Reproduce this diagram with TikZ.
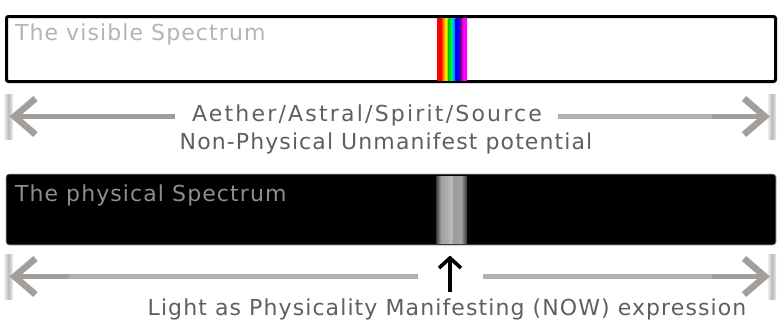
\documentclass[tikz,border=0pt]{standalone}
\usepackage{fontspec}
\newfontfamily\lbl[LetterSpace=5]{DejaVu Sans}
\newfontfamily\lblwide[LetterSpace=10]{DejaVu Sans}
\definecolor{arrowgray}{HTML}{B3B0AE}
\definecolor{arrowdark}{HTML}{A19E9C}
\definecolor{midtext}{HTML}{5F5F5F}
\definecolor{vistext}{HTML}{B4B4B4}
\definecolor{phystext}{HTML}{8E8E8E}
\begin{document}
\begin{tikzpicture}[x=1pt,y=-1pt,
  txt/.style={font=\lbl\fontsize{22}{26}\selectfont, inner sep=0pt, outer sep=0pt},
  widetxt/.style={font=\lblwide\fontsize{22}{26}\selectfont, inner sep=0pt, outer sep=0pt},
  visbox/.style={draw=black, line width=3pt, fill=white, rounded corners=2pt,
    minimum width=769pt, minimum height=65pt, inner sep=0pt, outer sep=0pt},
  physbox/.style={draw=gray!60, line width=0.6pt, fill=black, rounded corners=3pt,
    minimum width=770pt, minimum height=71pt, inner sep=0pt, outer sep=0pt},
  bar/.style={minimum width=8pt, minimum height=45pt, inner sep=0pt, outer sep=0pt,
    left color=gray!15, right color=gray!15, middle color=gray!55},
  shaft/.style={draw=arrowgray, line width=5pt},
  shaftend/.style={draw=arrowdark, line width=5pt},
  chev/.style={draw=arrowdark, line width=6.5pt, line join=miter, line cap=butt},
  uparr/.style={draw=black, line width=3.6pt, line join=miter, line cap=butt}]
\useasboundingbox (0,0) rectangle (779,327);

% visible spectrum box
\node[visbox] (vis) at (391,49) {};
\foreach \a/\b/\ca/\cb in {437/441/red/red, 441/443/red/orange, 443/446/orange/yellow!90!orange,
  446/448.5/yellow!90!orange/green!80!black, 448.5/452/green!80!black/green!60!cyan,
  452/455.5/cyan!80!black/cyan!40!blue, 455.5/460/blue/blue!80!violet,
  460/463/violet!90!blue/magenta!80!violet, 463/467/magenta/magenta}
  \shade[left color=\ca, right color=\cb] (\a,18) rectangle (\b,80);
\node[txt, text=vistext, anchor=base west] (vist) at (15,40) {The visible Spectrum};

% first arrow row
\node[bar] (lb1) at (8.5,116.5) {};
\node[bar] (rb1) at (772,116.5) {};
\node[widetxt, text=midtext, anchor=base] (aeth) at (367,121) {Aether/Astral/Spirit/Source};
\node[txt, text=midtext, anchor=base] (nonp) at (386,149) {Non-Physical Unmanifest potential};
\draw[shaftend, shorten >=17pt] ([xshift=3pt]lb1.center) -- (lb1.center -| aeth.west);
\draw[shaft, shorten <=16pt, shorten >=60pt] (lb1.center -| aeth.east) -- (rb1.center);
\draw[shaftend] ([xshift=-60pt]rb1.center) -- ([xshift=-6pt]rb1.center);
\draw[chev] ([xshift=27pt,yshift=18pt]lb1.center) -- ([xshift=6pt]lb1.center) -- ([xshift=27pt,yshift=-18pt]lb1.center);
\draw[chev] ([xshift=-28pt,yshift=18pt]rb1.center) -- ([xshift=-7pt]rb1.center) -- ([xshift=-28pt,yshift=-18pt]rb1.center);

% physical spectrum box
\node[physbox] (phys) at (391,209.5) {};
\foreach \a/\b/\ca/\cb in {436/441/gray!45!black/gray!75, 441/449/gray!75/gray!62,
  449/453/gray!55/gray!58, 453/461/gray!78/gray!72, 461/467/gray!72/gray!42!black}
  \shade[left color=\ca, right color=\cb] (\a,176) rectangle (\b,243);
\node[txt, text=phystext, anchor=base west] (physt) at (15,201) {The physical Spectrum};

% second arrow row
\node[bar] (lb2) at (8.5,276.5) {};
\node[bar] (rb2) at (772,276.5) {};
\coordinate (upbot) at (450,292);
\coordinate (uptop) at (450,255);
\draw[shaftend] ([xshift=3pt]lb2.center) -- ([xshift=60pt]lb2.center);
\draw[shaft, shorten <=60pt, shorten >=32pt] (lb2.center) -- (lb2.center -| upbot);
\draw[shaft, shorten <=33pt, shorten >=60pt] (lb2.center -| upbot) -- (rb2.center);
\draw[shaftend] ([xshift=-60pt]rb2.center) -- ([xshift=-6pt]rb2.center);
\draw[chev] ([xshift=27pt,yshift=18pt]lb2.center) -- ([xshift=6pt]lb2.center) -- ([xshift=27pt,yshift=-18pt]lb2.center);
\draw[chev] ([xshift=-28pt,yshift=18pt]rb2.center) -- ([xshift=-7pt]rb2.center) -- ([xshift=-28pt,yshift=-18pt]rb2.center);
\draw[uparr] (upbot) -- ([yshift=-2pt]uptop);
\draw[uparr] ([xshift=-11pt,yshift=-13pt]uptop) -- ([yshift=-3pt]uptop) -- ([xshift=11pt,yshift=-13pt]uptop);
\node[txt, text=midtext, anchor=base] (light) at (447,315) {Light as Physicality Manifesting (NOW) expression};
\end{tikzpicture}
\end{document}
